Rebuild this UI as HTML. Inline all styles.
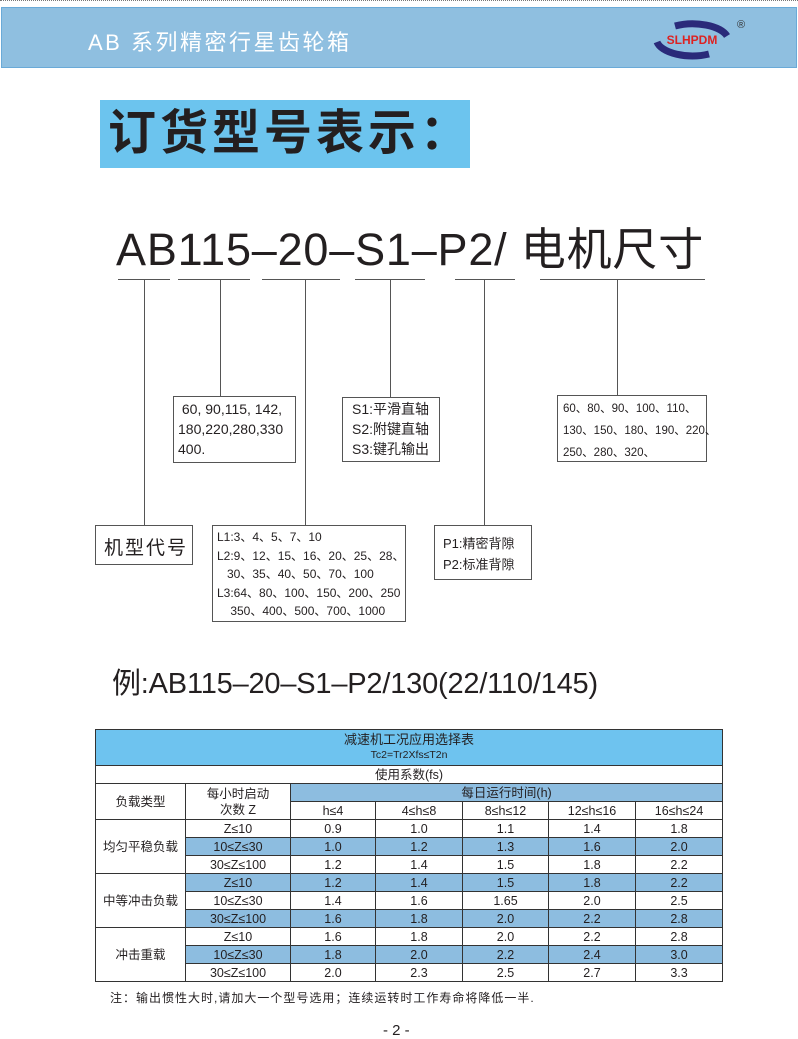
<!DOCTYPE html>
<html><head><meta charset="utf-8"><style>
*{margin:0;padding:0;box-sizing:border-box}
body{width:798px;height:1038px;background:#fff;position:relative;font-family:"Liberation Sans","Noto Sans CJK SC",sans-serif;color:#231f20;overflow:hidden}
.a{position:absolute}
.v{position:absolute;width:1px;background:#555}
.h{position:absolute;height:1px;background:#555}
.box{position:absolute;border:1px solid #555;background:#fff}
.sm{font-size:13px;line-height:20px;white-space:nowrap}
table{border-collapse:collapse;position:absolute;left:95px;top:729px;width:627px;table-layout:fixed;font-size:12.5px}
td{border:1px solid #333;text-align:center;height:18px;padding:0;line-height:16px}
.bl td.c{background:#8dbde0}
</style></head><body>
<div class="a" style="left:0;top:0;width:798px;height:2px;border-top:1px dotted #777"></div>
<div class="a" style="left:1px;top:7px;width:796px;height:61px;background:#8fbfe0;border:1px solid #6aaad8"></div>
<div class="a" style="left:88px;top:25px;font-size:22px;color:#fff;letter-spacing:2.5px">AB 系列精密行星齿轮箱</div>
<svg class="a" style="left:645px;top:14px" width="110" height="50"><path d="M30 12 A36 17 0 0 1 82 22" fill="none" stroke="#2a2a7a" stroke-width="7"/><path d="M64 40 A36 17 0 0 1 12 28" fill="none" stroke="#2a2a7a" stroke-width="7"/><text x="47" y="30" font-size="12" font-weight="bold" fill="#d22" text-anchor="middle" font-family="Liberation Sans">SLHPDM</text><text x="92" y="14" font-size="11" fill="#333">®</text></svg>
<div class="a" style="left:100px;top:100px;width:370px;height:68px;background:#6cc4ee"></div>
<div class="a" style="left:108px;top:104px;font-size:48px;font-weight:bold;letter-spacing:4px;line-height:60px">订货型号表示：</div>
<div class="a" style="left:116px;top:222px;font-size:45px;line-height:56px;white-space:nowrap;letter-spacing:0.8px">AB115–20–S1–P2/ 电机尺寸</div>
<div class="h" style="left:118px;top:279px;width:52px"></div>
<div class="h" style="left:178px;top:279px;width:72px"></div>
<div class="h" style="left:262px;top:279px;width:78px"></div>
<div class="h" style="left:355px;top:279px;width:70px"></div>
<div class="h" style="left:455px;top:279px;width:60px"></div>
<div class="h" style="left:540px;top:279px;width:165px"></div>
<div class="v" style="left:144px;top:279px;height:246px"></div>
<div class="v" style="left:220px;top:279px;height:117px"></div>
<div class="v" style="left:305px;top:279px;height:246px"></div>
<div class="v" style="left:390px;top:279px;height:118px"></div>
<div class="v" style="left:484px;top:279px;height:246px"></div>
<div class="v" style="left:617px;top:279px;height:116px"></div>
<div class="box sm" style="left:173px;top:396px;width:123px;height:67px;padding:2px 0 0 4px;font-size:14px">&nbsp;60, 90,115, 142,<br>180,220,280,330<br>400.</div>
<div class="box sm" style="left:342px;top:397px;width:98px;height:65px;padding:1px 0 0 9px;font-size:14px">S1:平滑直轴<br>S2:附键直轴<br>S3:键孔输出</div>
<div class="box sm" style="left:557px;top:395px;width:150px;height:67px;padding:2px 0 0 5px;font-size:11.5px;line-height:22px">60、80、90、100、110、<br>130、150、180、190、220、<br>250、280、320、</div>
<div class="box" style="left:95px;top:525px;width:98px;height:40px;font-size:19px;padding:7px 0 0 8px;letter-spacing:2px">机型代号</div>
<div class="box sm" style="left:212px;top:525px;width:194px;height:97px;padding:2px 0 0 4px;font-size:12px;line-height:18.5px">L1:3、4、5、7、10<br>L2:9、12、15、16、20、25、28、<br>&nbsp;&nbsp;&nbsp;30、35、40、50、70、100<br>L3:64、80、100、150、200、250<br>&nbsp;&nbsp;&nbsp;&nbsp;350、400、500、700、1000</div>
<div class="box sm" style="left:434px;top:525px;width:98px;height:55px;padding:7px 0 0 8px;font-size:13px;line-height:21px">P1:精密背隙<br>P2:标准背隙</div>
<div class="a" style="left:112px;top:665px;font-size:29px;line-height:38px;white-space:nowrap;letter-spacing:-0.2px">例:AB115–20–S1–P2/130(22/110/145)</div>
<table>
<colgroup><col style="width:90px"><col style="width:105px"><col style="width:85px"><col style="width:87px"><col style="width:86px"><col style="width:87px"><col style="width:87px"></colgroup>
<tr><td colspan="7" style="background:#6ec3ef;height:36px;line-height:14px;font-size:13px">减速机工况应用选择表<br><span style="font-size:10.5px">Tc2=Tr2Xfs≤T2n</span></td></tr>
<tr><td colspan="7">使用系数(fs)</td></tr>
<tr><td rowspan="2">负载类型</td><td rowspan="2">每小时启动<br>次数 Z</td><td colspan="5" style="background:#8dbde0">每日运行时间(h)</td></tr>
<tr><td>h≤4</td><td>4≤h≤8</td><td>8≤h≤12</td><td>12≤h≤16</td><td>16≤h≤24</td></tr>
<tr><td rowspan="3">均匀平稳负载</td><td>Z≤10</td><td>0.9</td><td>1.0</td><td>1.1</td><td>1.4</td><td>1.8</td></tr>
<tr class="bl"><td class="c">10≤Z≤30</td><td class="c">1.0</td><td class="c">1.2</td><td class="c">1.3</td><td class="c">1.6</td><td class="c">2.0</td></tr>
<tr><td>30≤Z≤100</td><td>1.2</td><td>1.4</td><td>1.5</td><td>1.8</td><td>2.2</td></tr>
<tr class="bl"><td rowspan="3">中等冲击负载</td><td class="c">Z≤10</td><td class="c">1.2</td><td class="c">1.4</td><td class="c">1.5</td><td class="c">1.8</td><td class="c">2.2</td></tr>
<tr><td>10≤Z≤30</td><td>1.4</td><td>1.6</td><td>1.65</td><td>2.0</td><td>2.5</td></tr>
<tr class="bl"><td class="c">30≤Z≤100</td><td class="c">1.6</td><td class="c">1.8</td><td class="c">2.0</td><td class="c">2.2</td><td class="c">2.8</td></tr>
<tr><td rowspan="3">冲击重载</td><td>Z≤10</td><td>1.6</td><td>1.8</td><td>2.0</td><td>2.2</td><td>2.8</td></tr>
<tr class="bl"><td class="c">10≤Z≤30</td><td class="c">1.8</td><td class="c">2.0</td><td class="c">2.2</td><td class="c">2.4</td><td class="c">3.0</td></tr>
<tr><td>30≤Z≤100</td><td>2.0</td><td>2.3</td><td>2.5</td><td>2.7</td><td>3.3</td></tr>
</table>
<div class="a" style="left:110px;top:989px;font-size:12px;letter-spacing:1px;white-space:nowrap">注：输出惯性大时,请加大一个型号选用；连续运转时工作寿命将降低一半.</div>
<div class="a" style="left:383px;top:1022px;font-size:15px">- 2 -</div>
</body></html>
